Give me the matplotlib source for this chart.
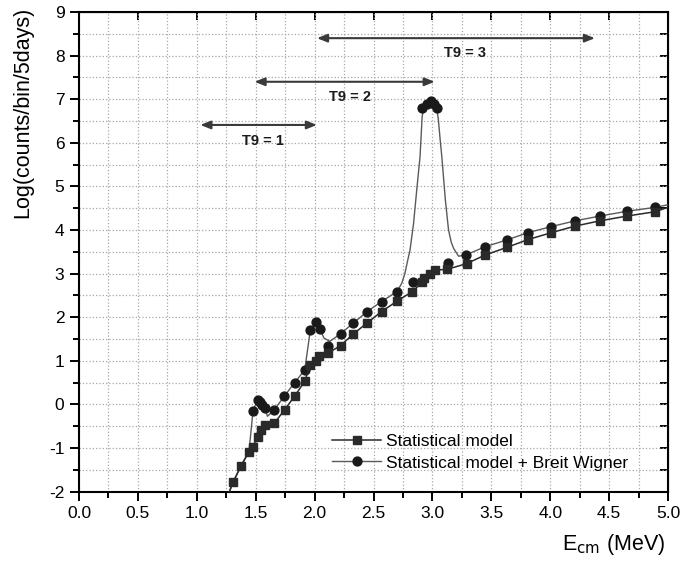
import matplotlib
matplotlib.use("Agg")
import matplotlib.pyplot as plt
from matplotlib.lines import Line2D
from matplotlib.ticker import MultipleLocator, FormatStrFormatter

plt.rcParams['font.family'] = ['Liberation Sans', 'DejaVu Sans']
plt.rcParams['axes.unicode_minus'] = False

# Statistical model (line runs through the markers; first/last are line ends only)
stat_x = [1.24, 1.31, 1.375, 1.443, 1.474, 1.516, 1.548, 1.576, 1.658, 1.746,
          1.83, 1.916, 1.964, 2.015, 2.04, 2.115, 2.22, 2.33, 2.446, 2.568,
          2.70, 2.83, 2.914, 2.93, 2.98, 3.02, 3.127, 3.29, 3.45, 3.63,
          3.81, 4.01, 4.21, 4.42, 4.65, 4.89, 5.0]
stat_y = [-2.25, -1.77, -1.41, -1.08, -0.97, -0.74, -0.58, -0.47, -0.43, -0.12,
          0.19, 0.53, 0.91, 1.00, 1.12, 1.18, 1.35, 1.62, 1.87, 2.13,
          2.37, 2.59, 2.80, 2.89, 3.00, 3.08, 3.10, 3.23, 3.43, 3.60,
          3.78, 3.94, 4.09, 4.21, 4.32, 4.42, 4.52]

# Statistical model + Breit Wigner: sampled points (markers)
bw_x = [1.477, 1.516, 1.539, 1.556, 1.576, 1.658, 1.743, 1.83, 1.916, 1.964,
        2.015, 2.043, 2.115, 2.22, 2.33, 2.446, 2.568, 2.70, 2.834, 2.913,
        2.95, 2.986, 3.015, 3.037, 3.135, 3.285, 3.45, 3.63, 3.81, 4.01,
        4.21, 4.42, 4.65, 4.89]
bw_y = [-0.15, 0.11, 0.05, -0.01, -0.08, -0.12, 0.19, 0.50, 0.79, 1.71,
        1.89, 1.74, 1.35, 1.62, 1.87, 2.13, 2.36, 2.59, 2.82, 6.81,
        6.89, 6.95, 6.89, 6.81, 3.25, 3.43, 3.62, 3.77, 3.94, 4.08,
        4.21, 4.32, 4.43, 4.52]

# Breit Wigner curve as drawn (smooth model line)
bw_curve_x = [1.24, 1.31, 1.375, 1.443, 1.477, 1.516, 1.539, 1.556, 1.576, 1.60,
              1.658, 1.743, 1.83, 1.916, 1.964, 2.015, 2.043, 2.08, 2.13, 2.22,
              2.33, 2.446, 2.568, 2.70, 2.74, 2.767, 2.79, 2.81, 2.84, 2.867,
              2.895, 2.913, 2.93, 2.96, 2.986, 3.015, 3.037, 3.05, 3.065, 3.08,
              3.11, 3.137, 3.16, 3.18, 3.222, 3.285, 3.45, 3.63, 3.81, 4.01,
              4.21, 4.42, 4.65, 4.89, 5.0]
bw_curve_y = [-2.25, -1.77, -1.41, -1.08, -0.15, 0.11, 0.05, -0.01, -0.08, -0.27,
              -0.12, 0.19, 0.50, 0.79, 1.71, 1.89, 1.74, 1.52, 1.45, 1.62,
              1.87, 2.13, 2.36, 2.59, 2.78, 3.01, 3.30, 3.54, 4.15, 4.92,
              5.68, 6.60, 6.85, 6.93, 6.95, 6.89, 6.78, 6.55, 6.10, 5.68,
              4.69, 4.00, 3.72, 3.58, 3.40, 3.43, 3.62, 3.77, 3.94, 4.08,
              4.21, 4.32, 4.43, 4.52, 4.58]

# temperature windows (T9 ranges in MeV) and their label positions
t9_labels = ['T9 = 1', 'T9 = 2', 'T9 = 3']
t9_start = [1.03, 1.49, 2.02]
t9_end = [2.02, 3.02, 4.38]
t9_arrow_y = [6.41, 7.40, 8.40]
t9_text_x = [1.56, 2.30, 3.28]
t9_text_y = [6.04, 7.06, 8.05]


def main():
    fig = plt.figure(figsize=(6.83, 5.66), dpi=100)
    ax = fig.add_axes([79 / 683, 1 - 491.7 / 566, 589 / 683, 479.7 / 566])

    ax.plot(bw_curve_x, bw_curve_y, color='#5a5a5a', linewidth=1.0, zorder=3)
    ax.plot(bw_x, bw_y, linestyle='none', marker='o', markersize=6.4,
            color='#1a1a1a', zorder=4)
    stat_line, = ax.plot(stat_x, stat_y, color='#2a2a2a', linewidth=1.1,
                         marker='s', markersize=6.0, markevery=slice(1, -1),
                         zorder=5, label='Statistical model')

    # T9 windows
    for lab, x0, x1, ya, xt, yt in zip(t9_labels, t9_start, t9_end,
                                       t9_arrow_y, t9_text_x, t9_text_y):
        ax.annotate('', xy=(x1, ya), xytext=(x0, ya),
                    arrowprops=dict(arrowstyle='<|-|>,head_length=0.5,head_width=0.2',
                                    color='#3a3a3a', lw=1.5,
                                    shrinkA=0, shrinkB=0, mutation_scale=12))
        ax.text(xt, yt, lab, ha='center', va='center', fontsize=10.5,
                fontweight='bold', color='#1a1a1a')

    ax.set_xlim(0, 5)
    ax.set_ylim(-2, 9)
    ax.xaxis.set_major_locator(MultipleLocator(0.5))
    ax.xaxis.set_minor_locator(MultipleLocator(0.25))
    ax.xaxis.set_major_formatter(FormatStrFormatter('%.1f'))
    ax.yaxis.set_major_locator(MultipleLocator(1))
    ax.yaxis.set_minor_locator(MultipleLocator(0.5))

    ax.grid(True, which='both', linestyle=':', color='#a8a8a8', linewidth=0.9)
    ax.set_axisbelow(True)

    ax.tick_params(which='major', direction='out', length=6.5, width=1.4,
                   labelsize=12.5, pad=4)
    ax.tick_params(which='minor', direction='out', length=4.3, width=1.4)
    for sp in ax.spines.values():
        sp.set_linewidth(1.5)

    # mirrored ticks pointing inward on top and right
    top = ax.secondary_xaxis('top')
    top.xaxis.set_major_locator(MultipleLocator(0.5))
    top.tick_params(direction='in', length=6, width=1.4, labeltop=False)
    right = ax.secondary_yaxis('right')
    right.yaxis.set_major_locator(MultipleLocator(0.5))
    right.tick_params(direction='in', length=6, width=1.4, labelright=False)

    ax.set_ylabel('Log(counts/bin/5days)', fontsize=15.5)
    ax.yaxis.set_label_coords(-0.078, 0.79)
    ax.set_xlabel(r'E$_{\rm cm}$ (MeV)', fontsize=15.5)
    ax.xaxis.set_label_coords(0.995, -0.085)
    ax.xaxis.label.set_ha('right')

    bw_handle = Line2D([], [], color='#5a5a5a', linewidth=1.0, marker='o',
                       markersize=6.4, markerfacecolor='#1a1a1a',
                       markeredgecolor='#1a1a1a')
    ax.legend([stat_line, bw_handle],
              ['Statistical model', 'Statistical model + Breit Wigner'],
              loc='upper left', bbox_to_anchor=(0.43, 0.12), frameon=False,
              fontsize=12.5, handlelength=2.8, handletextpad=0.3,
              labelspacing=0.35, borderpad=0, borderaxespad=0)

    fig.savefig('out.png', dpi=100)


if __name__ == "__main__":
    main()
